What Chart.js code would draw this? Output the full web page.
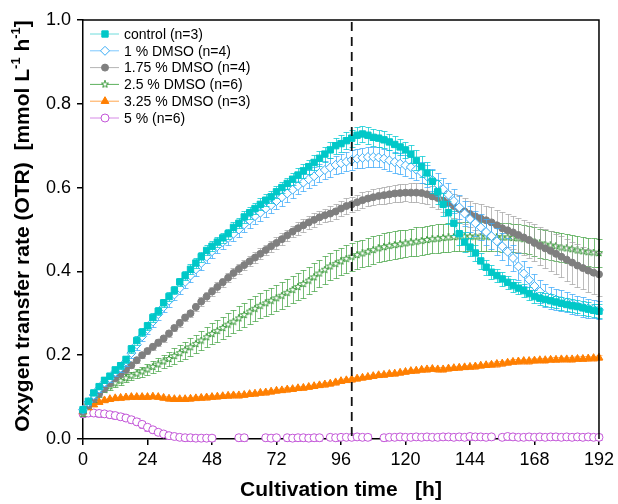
<!DOCTYPE html>
<html>
<head>
<meta charset="utf-8">
<script src="https://cdn.jsdelivr.net/npm/chart.js@4.4.0/dist/chart.umd.min.js"></script>
<style>
  body { margin: 0; background: #fff; }
  canvas { display: block; }
</style>
</head>
<body>
<canvas id="otr" width="618" height="504"></canvas>
<script>
// cultivation time grid [h], one reading every 2 h
const hours = Array.from({ length: 97 }, (_, i) => i * 2);
const xTicks = [0, 24, 48, 72, 96, 120, 144, 168, 192];
const yTicks = [0, 0.2, 0.4, 0.6, 0.8, 1.0];
const markerTime = 100;

const labels = ['control (n=3)', '1 % DMSO (n=4)', '1.75 % DMSO (n=4)', '2.5 % DMSO (n=6)', '3.25 % DMSO (n=3)', '5 % (n=6)'];

// OTR [mmol/L/h]
const control = [
  0.07, 0.09, 0.11, 0.125, 0.14, 0.15, 0.165, 0.175, 0.19, 0.215,
  0.235, 0.255, 0.27, 0.29, 0.305, 0.325, 0.34, 0.355, 0.375, 0.39,
  0.405, 0.42, 0.435, 0.45, 0.46, 0.47, 0.48, 0.49, 0.505, 0.515,
  0.53, 0.54, 0.55, 0.56, 0.57, 0.578, 0.59, 0.6, 0.61, 0.62,
  0.63, 0.64, 0.65, 0.66, 0.67, 0.68, 0.69, 0.7, 0.705, 0.712,
  0.718, 0.725, 0.728, 0.725, 0.72, 0.718, 0.714, 0.709, 0.703, 0.697,
  0.69, 0.68, 0.665, 0.65, 0.635, 0.615, 0.59, 0.56, 0.54, 0.515,
  0.49, 0.47, 0.458, 0.444, 0.425, 0.41, 0.398, 0.39, 0.382, 0.374,
  0.366, 0.36, 0.354, 0.347, 0.34, 0.336, 0.333, 0.33, 0.327, 0.324,
  0.321, 0.318, 0.316, 0.313, 0.31, 0.307, 0.305
];
const dmso1 = [
  0.07, 0.088, 0.105, 0.12, 0.135, 0.145, 0.16, 0.17, 0.185, 0.205,
  0.225, 0.245, 0.262, 0.28, 0.298, 0.315, 0.33, 0.345, 0.36, 0.375,
  0.39, 0.405, 0.42, 0.435, 0.448, 0.46, 0.47, 0.48, 0.49, 0.5,
  0.512, 0.522, 0.532, 0.54, 0.55, 0.558, 0.568, 0.577, 0.586, 0.595,
  0.604, 0.612, 0.62, 0.627, 0.635, 0.642, 0.648, 0.654, 0.658, 0.662,
  0.666, 0.669, 0.671, 0.673, 0.673, 0.672, 0.669, 0.665, 0.661, 0.657,
  0.653, 0.649, 0.643, 0.636, 0.627, 0.618, 0.608, 0.596, 0.583, 0.568,
  0.553, 0.538, 0.525, 0.515, 0.505, 0.494, 0.484, 0.472, 0.46, 0.447,
  0.432, 0.412, 0.395, 0.38, 0.365, 0.352, 0.343, 0.337, 0.333, 0.33,
  0.326, 0.322, 0.318, 0.315, 0.312, 0.31, 0.308
];
const dmso175 = [
  0.065, 0.08, 0.095, 0.108, 0.12, 0.133, 0.145, 0.155, 0.165, 0.176,
  0.188, 0.2, 0.21, 0.22, 0.23, 0.24, 0.252, 0.265, 0.277, 0.29,
  0.3, 0.315, 0.328, 0.34, 0.352, 0.363, 0.374, 0.385, 0.396, 0.406,
  0.415, 0.424, 0.433, 0.442, 0.451, 0.46, 0.468, 0.477, 0.486, 0.495,
  0.503, 0.51, 0.517, 0.523, 0.529, 0.534, 0.538, 0.543, 0.55, 0.556,
  0.56, 0.565, 0.57, 0.574, 0.577, 0.58, 0.582, 0.584, 0.586, 0.587,
  0.588, 0.588, 0.588, 0.587, 0.584, 0.579, 0.575, 0.569, 0.563, 0.556,
  0.549, 0.543, 0.537, 0.531, 0.526, 0.522, 0.517, 0.51, 0.503, 0.498,
  0.493, 0.487, 0.481, 0.475, 0.468, 0.461, 0.455, 0.449, 0.442, 0.435,
  0.428, 0.421, 0.414, 0.408, 0.402, 0.397, 0.393
];
const dmso25 = [
  0.06, 0.08, 0.095, 0.108, 0.118, 0.126, 0.133, 0.139, 0.145, 0.151,
  0.156, 0.161, 0.166, 0.172, 0.178, 0.185, 0.191, 0.198, 0.205, 0.212,
  0.219, 0.227, 0.235, 0.243, 0.251, 0.258, 0.265, 0.273, 0.28, 0.288,
  0.296, 0.304, 0.311, 0.318, 0.324, 0.33, 0.336, 0.342, 0.349, 0.356,
  0.363, 0.37, 0.378, 0.386, 0.395, 0.404, 0.412, 0.418, 0.424, 0.43,
  0.435, 0.439, 0.443, 0.447, 0.451, 0.455, 0.458, 0.461, 0.463, 0.465,
  0.467, 0.469, 0.471, 0.473, 0.475, 0.477, 0.478, 0.48, 0.481, 0.482,
  0.483, 0.483, 0.483, 0.483, 0.483, 0.483, 0.482, 0.482, 0.481, 0.481,
  0.48, 0.479, 0.477, 0.475, 0.471, 0.467, 0.464, 0.462, 0.46, 0.457,
  0.455, 0.453, 0.45, 0.448, 0.446, 0.445, 0.444
];
const dmso325 = [
  0.065, 0.075, 0.082, 0.088, 0.092, 0.095, 0.097, 0.098, 0.099, 0.1,
  0.1, 0.1, 0.1, 0.101, 0.1, 0.098, 0.096, 0.095, 0.095, 0.095,
  0.096, 0.097, 0.098, 0.099, 0.1, 0.101, 0.102, 0.103, 0.104, 0.104,
  0.105, 0.107, 0.108, 0.11, 0.111, 0.113, 0.115, 0.116, 0.118, 0.119,
  0.121, 0.122, 0.124, 0.126, 0.128, 0.13, 0.132, 0.135, 0.138, 0.14,
  0.142, 0.144, 0.146, 0.148, 0.15, 0.152, 0.153, 0.155, 0.156, 0.158,
  0.16, 0.162, 0.163, 0.165, 0.166, 0.167, 0.166, 0.166, 0.168, 0.169,
  0.17, 0.171, 0.172, 0.173, 0.175, 0.176, 0.177, 0.179, 0.18, 0.182,
  0.184, 0.185, 0.186, 0.186, 0.187, 0.188, 0.188, 0.189, 0.189, 0.19,
  0.19, 0.19, 0.191, 0.191, 0.192, 0.193, 0.194
];
const dmso5 = [
  0.06, 0.062, 0.062, 0.061, 0.06, 0.058, 0.056, 0.053, 0.05, 0.046,
  0.041, 0.035, 0.028, 0.022, 0.016, 0.012, 0.008, 0.006, 0.004, 0.003,
  0.003, 0.002, 0.002, 0.002, 0.002, null, null, null, null, 0.003,
  0.003, null, null, null, 0.003, 0.002, 0.003, null, 0.003, 0.002,
  0.003, 0.003, 0.002, 0.003, 0.003, null, 0.004, 0.003, 0.004, 0.004,
  0.004, 0.005, 0.004, 0.004, null, null, 0.003, 0.004, 0.004, 0.005,
  0.004, 0.004, 0.005, 0.004, 0.005, 0.004, 0.004, 0.005, 0.005, 0.004,
  0.005, 0.004, 0.006, 0.005, 0.005, 0.004, 0.005, null, 0.004, 0.006,
  0.005, 0.004, 0.004, 0.005, 0.004, 0.005, 0.004, 0.005, 0.005, 0.004,
  0.005, 0.004, 0.005, 0.004, 0.005, 0.004, 0.004
];

// standard deviations
const controlErr = [
  0.005, 0.005, 0.006, 0.006, 0.007, 0.007, 0.008, 0.008, 0.009, 0.009,
  0.01, 0.01, 0.01, 0.01, 0.01, 0.01, 0.01, 0.01, 0.01, 0.01,
  0.012, 0.012, 0.012, 0.012, 0.012, 0.012, 0.012, 0.012, 0.012, 0.012,
  0.014, 0.014, 0.014, 0.014, 0.014, 0.014, 0.014, 0.014, 0.014, 0.014,
  0.016, 0.016, 0.017, 0.017, 0.018, 0.018, 0.019, 0.019, 0.02, 0.02,
  0.02, 0.02, 0.02, 0.02, 0.02, 0.02, 0.02, 0.02, 0.02, 0.02,
  0.02, 0.022, 0.024, 0.025, 0.026, 0.027, 0.028, 0.028, 0.028, 0.028,
  0.026, 0.024, 0.022, 0.02, 0.019, 0.018, 0.017, 0.016, 0.016, 0.015,
  0.015, 0.015, 0.015, 0.015, 0.015, 0.015, 0.015, 0.015, 0.015, 0.015,
  0.015, 0.015, 0.016, 0.016, 0.016, 0.016, 0.017
];
const dmso1Err = [
  0.006, 0.007, 0.008, 0.008, 0.009, 0.009, 0.01, 0.01, 0.011, 0.011,
  0.012, 0.012, 0.012, 0.013, 0.013, 0.013, 0.014, 0.014, 0.014, 0.015,
  0.015, 0.015, 0.016, 0.016, 0.016, 0.017, 0.017, 0.017, 0.018, 0.018,
  0.018, 0.018, 0.019, 0.019, 0.019, 0.019, 0.02, 0.02, 0.02, 0.02,
  0.02, 0.021, 0.021, 0.021, 0.022, 0.022, 0.022, 0.022, 0.023, 0.023,
  0.023, 0.023, 0.024, 0.024, 0.024, 0.024, 0.024, 0.025, 0.025, 0.025,
  0.025, 0.025, 0.026, 0.026, 0.026, 0.027, 0.027, 0.028, 0.028, 0.029,
  0.029, 0.03, 0.03, 0.03, 0.031, 0.031, 0.031, 0.032, 0.032, 0.032,
  0.032, 0.032, 0.031, 0.03, 0.029, 0.028, 0.027, 0.026, 0.025, 0.025,
  0.024, 0.024, 0.023, 0.023, 0.023, 0.022, 0.022
];
const dmso175Err = [
  0.005, 0.005, 0.005, 0.006, 0.006, 0.006, 0.006, 0.007, 0.007, 0.007,
  0.007, 0.007, 0.008, 0.008, 0.008, 0.008, 0.008, 0.008, 0.009, 0.009,
  0.009, 0.01, 0.01, 0.01, 0.01, 0.011, 0.011, 0.011, 0.012, 0.012,
  0.012, 0.012, 0.013, 0.013, 0.013, 0.013, 0.014, 0.014, 0.014, 0.014,
  0.015, 0.015, 0.015, 0.016, 0.016, 0.016, 0.017, 0.017, 0.017, 0.018,
  0.018, 0.018, 0.019, 0.019, 0.019, 0.02, 0.02, 0.02, 0.02, 0.021,
  0.021, 0.022, 0.022, 0.023, 0.024, 0.025, 0.026, 0.027, 0.028, 0.029,
  0.03, 0.031, 0.032, 0.033, 0.034, 0.035, 0.036, 0.037, 0.038, 0.039,
  0.04, 0.041, 0.042, 0.043, 0.044, 0.045, 0.046, 0.047, 0.048, 0.049,
  0.05, 0.05, 0.051, 0.051, 0.052, 0.052, 0.052
];
const dmso25Err = [
  0.005, 0.006, 0.006, 0.007, 0.007, 0.008, 0.008, 0.009, 0.009, 0.01,
  0.011, 0.012, 0.013, 0.014, 0.015, 0.016, 0.017, 0.018, 0.019, 0.02,
  0.021, 0.022, 0.023, 0.024, 0.025, 0.026, 0.027, 0.028, 0.028, 0.029,
  0.029, 0.03, 0.03, 0.03, 0.031, 0.031, 0.031, 0.032, 0.032, 0.032,
  0.032, 0.033, 0.033, 0.033, 0.033, 0.033, 0.033, 0.033, 0.033, 0.033,
  0.033, 0.033, 0.033, 0.033, 0.033, 0.033, 0.033, 0.033, 0.033, 0.033,
  0.033, 0.033, 0.034, 0.034, 0.034, 0.034, 0.034, 0.034, 0.034, 0.034,
  0.034, 0.034, 0.034, 0.034, 0.034, 0.034, 0.034, 0.034, 0.034, 0.034,
  0.034, 0.034, 0.034, 0.034, 0.034, 0.034, 0.034, 0.034, 0.034, 0.034,
  0.034, 0.034, 0.034, 0.034, 0.034, 0.034, 0.034
];
const dmso325Err = [
  0.004, 0.004, 0.004, 0.004, 0.004, 0.004, 0.004, 0.004, 0.004, 0.004,
  0.004, 0.004, 0.004, 0.004, 0.004, 0.005, 0.005, 0.005, 0.005, 0.005,
  0.005, 0.005, 0.005, 0.005, 0.005, 0.005, 0.005, 0.005, 0.005, 0.005,
  0.005, 0.005, 0.005, 0.005, 0.005, 0.005, 0.005, 0.005, 0.005, 0.005,
  0.005, 0.005, 0.005, 0.005, 0.005, 0.005, 0.005, 0.005, 0.005, 0.005,
  0.005, 0.005, 0.005, 0.005, 0.005, 0.005, 0.005, 0.005, 0.005, 0.005,
  0.005, 0.005, 0.005, 0.005, 0.005, 0.005, 0.005, 0.005, 0.005, 0.005,
  0.005, 0.005, 0.005, 0.005, 0.005, 0.005, 0.006, 0.006, 0.006, 0.006,
  0.006, 0.006, 0.006, 0.006, 0.006, 0.006, 0.006, 0.006, 0.006, 0.006,
  0.006, 0.006, 0.006, 0.006, 0.006, 0.006, 0.006
];
const dmso5Err = [
  0.008, 0.008, 0.008, 0.008, 0.008, 0.008, 0.008, 0.008, 0.008, 0.008,
  0.008, 0.008, 0.008, 0.007, 0.007, 0.007, 0.007, 0.007, 0.007, 0.007,
  0.007, 0.007, 0.007, 0.007, 0.007, 0.007, 0.007, 0.007, 0.007, 0.007,
  0.007, 0.007, 0.007, 0.007, 0.007, 0.007, 0.007, 0.007, 0.007, 0.007,
  0.007, 0.007, 0.007, 0.007, 0.007, 0.007, 0.007, 0.007, 0.007, 0.007,
  0.007, 0.007, 0.007, 0.007, 0.007, 0.007, 0.007, 0.007, 0.007, 0.007,
  0.007, 0.007, 0.007, 0.007, 0.007, 0.007, 0.007, 0.007, 0.007, 0.007,
  0.007, 0.007, 0.008, 0.007, 0.007, 0.007, 0.007, 0.007, 0.007, 0.008,
  0.007, 0.007, 0.007, 0.007, 0.007, 0.007, 0.007, 0.007, 0.008, 0.007,
  0.007, 0.007, 0.007, 0.007, 0.008, 0.007, 0.007
];

const FONT = '"Liberation Sans", Arial, sans-serif';

// small open star, since chart.js has no 5 point star
function starImage(size, color) {
  const c = document.createElement('canvas');
  c.width = c.height = size;
  const g = c.getContext('2d');
  const cx = size / 2, cy = size / 2;
  g.beginPath();
  for (let k = 0; k < 10; k++) {
    const r = k % 2 ? size * 0.2 : size * 0.47;
    const a = -Math.PI / 2 + k * Math.PI / 5;
    const px = cx + r * Math.cos(a), py = cy + r * Math.sin(a);
    if (k === 0) g.moveTo(px, py); else g.lineTo(px, py);
  }
  g.closePath();
  g.fillStyle = '#fff';
  g.fill();
  g.strokeStyle = color;
  g.lineWidth = 1;
  g.stroke();
  return c;
}
const star = starImage(8, '#3a9a3a');

const pts = arr => hours.map((h, i) => ({ x: h, y: arr[i] }));

function series(i, arr, err, opts) {
  return Object.assign({
    label: labels[i],
    data: pts(arr),
    errors: err,
    showLine: true,
    borderWidth: 1,
    tension: 0,
    spanGaps: false,
    pointBorderWidth: 1,
    clip: false
  }, opts);
}

const datasets = [
  series(0, control, controlErr, { borderColor: '#6fdcdc', pointStyle: 'rect', pointRadius: 4.5,
    pointBackgroundColor: '#00c8c8', pointBorderColor: '#00c8c8', errorColor: 'rgba(0,200,210,0.75)' }),
  series(1, dmso1, dmso1Err, { borderColor: '#7cc8ff', pointStyle: 'rectRot', pointRadius: 4.5,
    pointBackgroundColor: '#fff', pointBorderColor: '#3aacf5', errorColor: 'rgba(60,170,250,0.75)' }),
  series(2, dmso175, dmso175Err, { borderColor: '#b4b4b4', pointStyle: 'circle', pointRadius: 3.5,
    pointBackgroundColor: '#7f7f7f', pointBorderColor: '#7f7f7f', errorColor: 'rgba(160,160,160,0.7)' }),
  series(3, dmso25, dmso25Err, { borderColor: '#5cb05c', pointStyle: star, pointRadius: 4,
    errorColor: 'rgba(60,160,60,0.7)' }),
  series(4, dmso325, dmso325Err, { borderColor: '#ffa64d', pointStyle: 'triangle', pointRadius: 4.5,
    pointBackgroundColor: '#ff7f00', pointBorderColor: '#ff7f00', errorColor: 'rgba(255,150,60,0.6)' }),
  series(5, dmso5, dmso5Err, { borderColor: '#d68ae6', pointStyle: 'circle', pointRadius: 4,
    pointBackgroundColor: '#fff', pointBorderColor: '#c356d8', errorColor: 'rgba(195,86,216,0.75)' })
];

const errorBars = {
  id: 'errorBars',
  beforeDatasetDraw(chart, args) {
    const ds = chart.data.datasets[args.index];
    if (!ds.errors) return;
    const ctx = chart.ctx, ys = chart.scales.y;
    ctx.save();
    ctx.strokeStyle = ds.errorColor;
    ctx.lineWidth = 1;
    args.meta.data.forEach((el, i) => {
      const v = ds.data[i].y;
      if (v == null) return;
      const e = ds.errors[i];
      const top = Math.round(ys.getPixelForValue(v + e)) + 0.5;
      const bot = Math.round(ys.getPixelForValue(v - e)) + 0.5;
      const x = Math.round(el.x) + 0.5;
      ctx.beginPath();
      ctx.moveTo(x, top); ctx.lineTo(x, bot);
      ctx.moveTo(x - 3, top); ctx.lineTo(x + 3, top);
      ctx.moveTo(x - 3, bot); ctx.lineTo(x + 3, bot);
      ctx.stroke();
    });
    ctx.restore();
  }
};

const frame = {
  id: 'frame',
  afterDatasetsDraw(chart) {
    const { ctx, chartArea: a } = chart;
    const xp = chart.scales.x.getPixelForValue(markerTime);
    ctx.save();
    ctx.strokeStyle = '#111';
    ctx.lineWidth = 1.8;
    ctx.setLineDash([9, 6]);
    ctx.beginPath();
    ctx.moveTo(xp, a.top + 2); ctx.lineTo(xp, a.bottom);
    ctx.stroke();
    ctx.setLineDash([]);
    ctx.lineWidth = 1.5;
    ctx.strokeStyle = '#000';
    ctx.beginPath();
    ctx.moveTo(a.left, a.top); ctx.lineTo(a.right, a.top); ctx.lineTo(a.right, a.bottom);
    ctx.stroke();
    ctx.restore();
  },
  afterDraw(chart) {
    const { ctx, chartArea: a } = chart;
    ctx.save();
    // legend
    ctx.font = '14px ' + FONT;
    ctx.textBaseline = 'middle';
    chart.data.datasets.forEach((ds, i) => {
      const y = 34 + i * 16.8;
      ctx.strokeStyle = ds.borderColor;
      ctx.lineWidth = 1;
      ctx.beginPath(); ctx.moveTo(90, y); ctx.lineTo(119, y); ctx.stroke();
      ctx.fillStyle = ds.pointBackgroundColor || '#fff';
      ctx.strokeStyle = ds.pointBorderColor || '#3a9a3a';
      Chart.helpers.drawPoint(ctx, { pointStyle: ds.pointStyle, radius: ds.pointRadius, rotation: 0, borderWidth: 1 }, 105, y);
      ctx.fillStyle = '#000';
      ctx.fillText(ds.label, 124, y + 1);
    });
    // axis titles
    ctx.fillStyle = '#000';
    ctx.font = 'bold 21px ' + FONT;
    ctx.textAlign = 'center';
    ctx.textBaseline = 'middle';
    ctx.fillText('Cultivation time   [h]', (a.left + a.right) / 2, 490);
    const parts = [
      ['Oxygen transfer rate (OTR)  [mmol L', false],
      ['-1', true],
      [' h', false],
      ['-1', true],
      [']', false]
    ];
    const big = 'bold 21px ' + FONT, small = 'bold 13px ' + FONT;
    let total = 0;
    parts.forEach(p => { ctx.font = p[1] ? small : big; total += ctx.measureText(p[0]).width; });
    ctx.translate(23, 226);
    ctx.rotate(-Math.PI / 2);
    ctx.textAlign = 'left';
    let cx = -total / 2;
    parts.forEach(p => {
      ctx.font = p[1] ? small : big;
      ctx.fillText(p[0], cx, p[1] ? -7 : 0);
      cx += ctx.measureText(p[0]).width;
    });
    ctx.restore();
  }
};

new Chart(document.getElementById('otr'), {
  type: 'scatter',
  data: { datasets },
  options: {
    responsive: false,
    animation: false,
    layout: { padding: { top: 20, right: 18, left: 0, bottom: 0 } },
    plugins: { legend: { display: false }, tooltip: { enabled: false } },
    scales: {
      x: {
        type: 'linear', min: 0, max: 192,
        afterBuildTicks: ax => { ax.ticks = xTicks.map(v => ({ value: v })); },
        ticks: { color: '#000', font: { family: FONT, size: 18 }, padding: 4, maxRotation: 0 },
        grid: { drawOnChartArea: false, tickLength: 6, color: '#000', lineWidth: 1.5 },
        border: { color: '#000', width: 1.5 },
        afterFit: ax => { ax.height = 65; }
      },
      y: {
        min: 0, max: 1,
        afterBuildTicks: ax => { ax.ticks = yTicks.map(v => ({ value: v })); },
        ticks: { color: '#000', font: { family: FONT, size: 18 }, padding: 6, callback: v => v.toFixed(1) },
        grid: { drawOnChartArea: false, tickLength: 6, color: '#000', lineWidth: 1.5 },
        border: { color: '#000', width: 1.5 },
        afterFit: ax => { ax.width = 83; }
      }
    }
  },
  plugins: [errorBars, frame]
});
</script>
</body>
</html>
